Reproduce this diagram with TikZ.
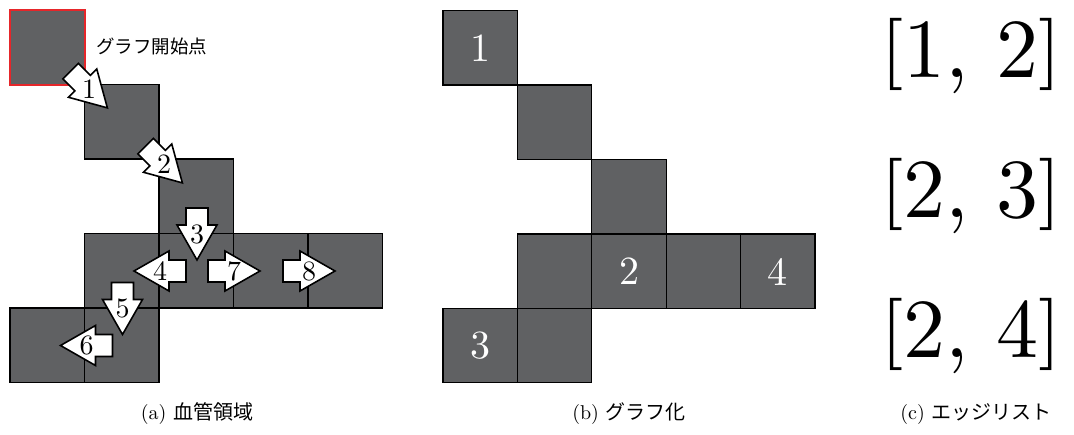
\documentclass[tikz,border=0pt]{standalone}
\usepackage{fontspec}
\usepackage{graphicx}
\newfontfamily\jpfont{Noto Sans CJK JP}
\newfontfamily\lmten{lmroman10-regular.otf}
\definecolor{cellgray}{RGB}{96,97,99}
\definecolor{startred}{RGB}{230,38,42}
\tikzset{
  cellbox/.style={fill=cellgray, draw=black, line width=1.3pt},
  startbox/.style={draw=startred, line width=2pt},
  arrowbox/.style={fill=white, draw=black, line width=1.6pt, line join=miter},
  arrowlbl/.style={inner sep=0pt, font=\lmten\fontsize{28}{30}\selectfont},
  graphlbl/.style={inner sep=0pt, text=white, font=\lmten\fontsize{40}{42}\selectfont},
  edgetxt/.style={inner sep=0pt, anchor=base west, font=\lmten\fontsize{84}{90}\selectfont},
  captxt/.style={inner sep=0pt, font=\lmten\fontsize{20}{22}\selectfont},
}
\newcommand\sbr[1]{\raisebox{5pt}{\scalebox{1}[0.86]{#1}}}
\newcommand\blockarr[5]{%
  \begin{scope}[shift={(#2,#3)}, rotate=#4]
    \draw[arrowbox] (-26,-11) -- (-9,-11) -- (-9,-20) -- (26,0) -- (-9,20) -- (-9,11) -- (-26,11) -- cycle;
  \end{scope}
  \node[arrowlbl] (#1) at (#2,#3) {#5};%
}
\begin{document}
\begin{tikzpicture}[x=1pt, y=1pt]
\useasboundingbox (0,0) rectangle (1074,-434);
% ---------- panel (a) ----------
\def\cs{74.5}
\foreach \c/\r in {0/0, 1/1, 2/2, 1/3, 2/3, 3/3, 4/3, 0/4, 1/4} {
  \draw[cellbox] ({10+\c*\cs}, {-10-\r*\cs}) rectangle ++(\cs, -\cs);
}
\draw[startbox] (10,-10) rectangle ++(\cs,-\cs);
\node[anchor=west, inner sep=0pt, font=\jpfont\fontsize{18.5}{20}\selectfont] (startlbl) at (96,-46) {グラフ開始点};
% arrows
\blockarr{a1}{89}{-89.5}{-45}{1}
\blockarr{a2}{164}{-164.5}{-45}{2}
\blockarr{a3}{197}{-234}{-90}{3}
\blockarr{a4}{160}{-271}{180}{4}
\blockarr{a7}{234}{-271}{0}{7}
\blockarr{a8}{309}{-271}{0}{8}
\blockarr{a5}{122.5}{-308.5}{-90}{5}
\blockarr{a6}{86.5}{-345.5}{180}{6}
% ---------- panel (b) ----------
\def\cb{74.4}
\foreach \c/\r in {0/0, 1/1, 2/2, 1/3, 2/3, 3/3, 4/3, 0/4, 1/4} {
  \draw[cellbox] ({443+\c*\cb}, {-10.7-\r*\cb}) rectangle ++(\cb, -\cb);
}
\node[graphlbl] (g1) at (480.2,-48) {1};
\node[graphlbl] (g2) at (629,-271.5) {2};
\node[graphlbl] (g4) at (777.8,-271.5) {4};
\node[graphlbl] (g3) at (480.2,-345.5) {3};
% ---------- panel (c) ----------
\node[edgetxt] (e1) at (880,-77) {\sbr{[}1, 2\sbr{]}};
\node[edgetxt] (e2) at (880,-217) {\sbr{[}2, 3\sbr{]}};
\node[edgetxt] (e3) at (880,-357) {\sbr{[}2, 4\sbr{]}};
% ---------- captions ----------
\node[captxt] (capa) at (197,-414) {(a) {\jpfont 血管領域}};
\node[captxt] (capb) at (629,-414) {(b) {\jpfont グラフ化}};
\node[captxt] (capc) at (976,-414) {(c) {\jpfont エッジリスト}};
\end{tikzpicture}
\end{document}
